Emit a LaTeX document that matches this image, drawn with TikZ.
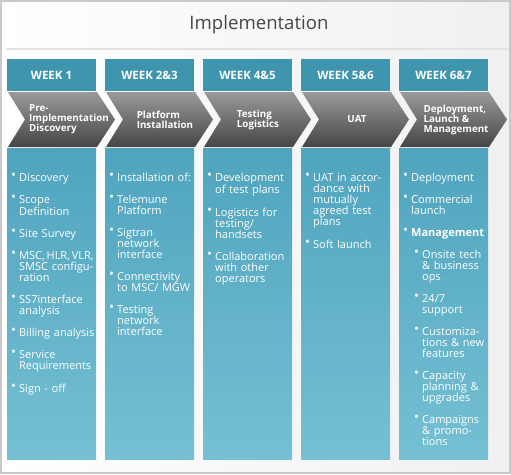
\documentclass[tikz,border=0pt]{standalone}
\usepackage{fontspec}
\setmainfont{Open Sans}
\usepackage{tikz}
\usetikzlibrary{positioning}

\definecolor{headteal}{HTML}{3F95AE}
\definecolor{bodytop}{HTML}{4FA4BE}
\definecolor{bodybot}{HTML}{75C0D3}
\definecolor{chevtop}{HTML}{9A9A9A}
\definecolor{chevmid}{HTML}{555555}
\definecolor{chevbot}{HTML}{454545}
\definecolor{framegray}{HTML}{C9C9C9}
\definecolor{rulegray}{HTML}{E2E2E2}
\definecolor{bggray}{HTML}{F0F0F0}
\definecolor{titlegray}{HTML}{474747}

\newcommand{\dotmark}{\raisebox{1.2pt}{\scalebox{1.2}{\textbullet}}}
\newcommand{\bitem}[1]{\par\hangindent=8pt\hangafter=1\noindent
  \makebox[8pt][l]{\dotmark}{\def\\{\newline}#1}\par\vspace{11pt}}
\newcommand{\sitem}[1]{\par\hangindent=19pt\hangafter=1\noindent
  \hspace*{11pt}\makebox[8pt][l]{\dotmark}{\def\\{\newline}#1}\par\vspace{11pt}}

\begin{document}
\begin{tikzpicture}[x=1pt,y=-1pt,
  week text/.style={text=white,font=\fontsize{11.5}{12}\selectfont\bfseries},
  chev text/.style={text=white,align=left,inner sep=0pt,font=\fontsize{9.8}{10}\selectfont\bfseries},
  list text/.style={text=white,text width=88pt,inner sep=0pt,anchor=base west,
    font=\fontsize{11}{11}\selectfont\raggedright}]

  \useasboundingbox (0,0) rectangle (511,474);
  \shade[left color=white,right color=bggray] (1,1) rectangle (510,473);
  \draw[framegray,line width=1.2pt] (1,1) rectangle (510,473);
  \node[text=titlegray,font=\fontsize{18.6}{22}\selectfont] (title) at (259,25) {Implementation};
  \draw[rulegray,line width=2.5pt] (6,49) -- (508,49);

  % week headers, chevrons and columns
  \foreach \i/\wk in {0/WEEK 1,1/WEEK 2\&3,2/WEEK 4\&5,3/WEEK 5\&6,4/WEEK 6\&7} {
    \fill[headteal] (7+98*\i,59) rectangle (96+98*\i,91);
    \node[week text] (week\i) at (51.5+98*\i,75.5) {\wk};
    \shade[top color=chevtop,middle color=chevmid,bottom color=chevbot]
      (8+98*\i,92) -- ++(89,0) -- ++(18,27.5) -- ++(-18,27.5) -- ++(-89,0) -- ++(17,-27.5) -- cycle;
    \shade[top color=bodytop,bottom color=bodybot] (7+98*\i,148) rectangle (96+98*\i,459);
  }

  \node[chev text] (phase0) at (69,119.5) {Pre-\\Implementation\\Discovery};
  \node[chev text] (phase1) at (165,119.5) {Platform\\Installation};
  \node[chev text] (phase2) at (258,119.5) {Testing\\Logistics};
  \node[chev text] (phase3) at (357,119.5) {UAT};
  \node[chev text] (phase4) at (456,119.5) {Deployment,\\Launch \&\\Management};

  \node[list text] (list0) at (11,170) {%
    \bitem{Discovery}
    \bitem{Scope\\Definition}
    \bitem{Site Survey}
    \bitem{\mbox{MSC,\,HLR,\,VLR,}\\SMSC configu-\\ration}
    \bitem{SS7interface\\analysis}
    \bitem{Billing analysis}
    \bitem{Service\\Requirements}
    \bitem{Sign - off}};
  \node[list text] (list1) at (109,170) {%
    \bitem{Installation of:}
    \bitem{Telemune\\Platform}
    \bitem{Sigtran\\network\\interface}
    \bitem{Connectivity\\to MSC/ MGW}
    \bitem{Testing\\network\\interface}};
  \node[list text] (list2) at (207,170) {%
    \bitem{Development\\of test plans}
    \bitem{Logistics for\\testing/\\handsets}
    \bitem{Collaboration\\with other\\operators}};
  \node[list text] (list3) at (305,170) {%
    \bitem{UAT in accor-\\dance with\\mutually\\agreed test\\plans}
    \bitem{Soft launch}};
  \node[list text] (list4) at (403,170) {%
    \bitem{Deployment}
    \bitem{Commercial\\launch}
    \bitem{\textbf{Management}}
    \sitem{Onsite tech\\\& business\\ops}
    \sitem{24/7\\support}
    \sitem{Customiza-\\tions \& new\\features}
    \sitem{Capacity\\planning \&\\upgrades}
    \sitem{Campaigns\\\& promo-\\tions}};
\end{tikzpicture}
\end{document}
